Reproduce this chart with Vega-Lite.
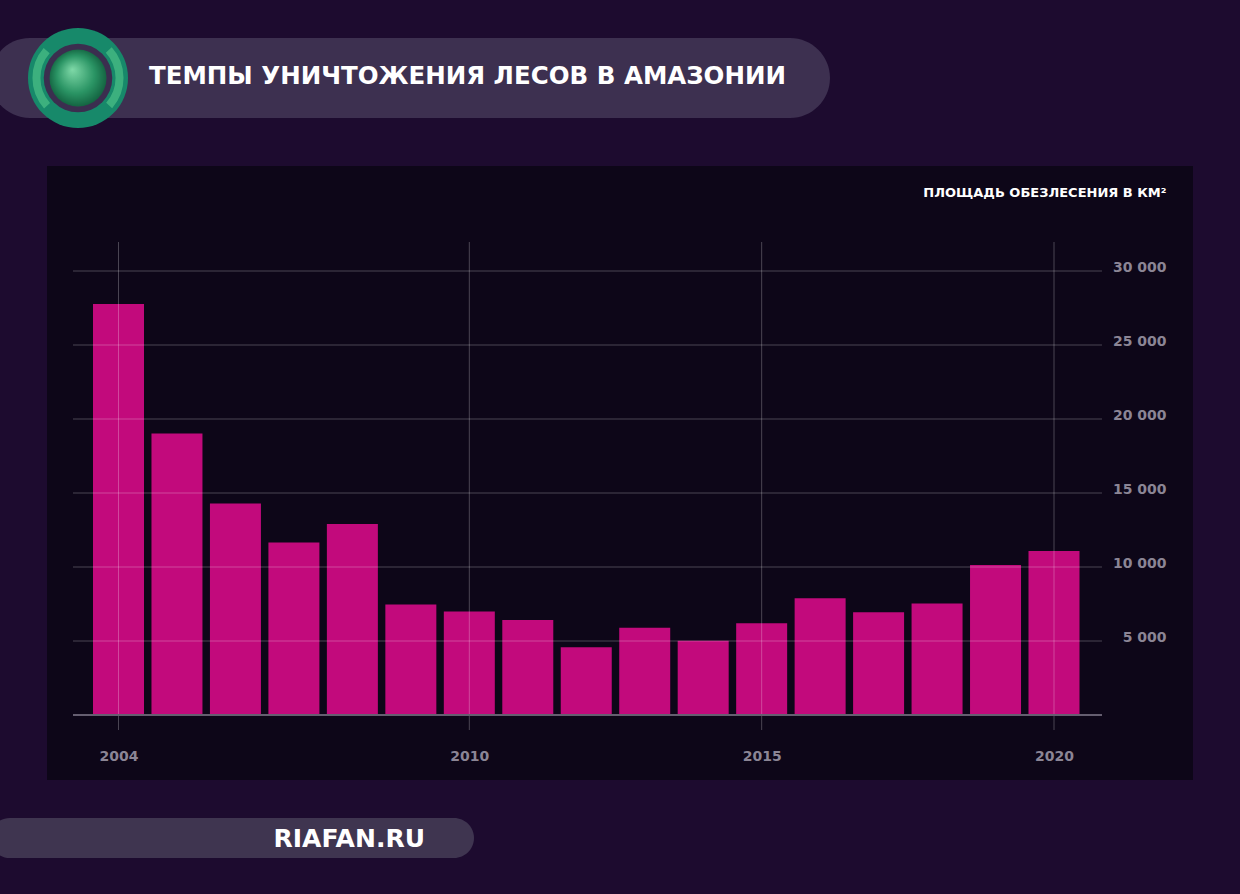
{
  "$schema": "https://vega.github.io/schema/vega-lite/v6.json",
  "width": 1146,
  "height": 614,
  "autosize": {"type": "none"},
  "padding": {"left": 47, "top": 166, "right": 47, "bottom": 114},
  "background": "#1d0b2f",
  "title": {
    "text": "ТЕМПЫ УНИЧТОЖЕНИЯ ЛЕСОВ В АМАЗОНИИ",
    "anchor": "start",
    "frame": "group",
    "orient": "top",
    "dx": 102,
    "offset": -81,
    "baseline": "middle",
    "font": "DejaVu Sans",
    "fontSize": 24.5,
    "fontWeight": "bold",
    "color": "#ffffff"
  },
  "config": {
    "view": {"fill": "#0d0618", "stroke": null}
  },
  "data": {
    "values": [
      {"year": 2004, "area": 27772},
      {"year": 2005, "area": 19014},
      {"year": 2006, "area": 14286},
      {"year": 2007, "area": 11651},
      {"year": 2008, "area": 12911},
      {"year": 2009, "area": 7464},
      {"year": 2010, "area": 7000},
      {"year": 2011, "area": 6418},
      {"year": 2012, "area": 4571},
      {"year": 2013, "area": 5891},
      {"year": 2014, "area": 5012},
      {"year": 2015, "area": 6207},
      {"year": 2016, "area": 7893},
      {"year": 2017, "area": 6947},
      {"year": 2018, "area": 7536},
      {"year": 2019, "area": 10129},
      {"year": 2020, "area": 11088}
    ]
  },
  "layer": [
    {
      "mark": {"type": "bar", "width": 51, "color": "#c20a7c"},
      "encoding": {
        "x": {
          "field": "year", "type": "quantitative",
          "scale": {"domain": [2002.7771, 2022.3773], "nice": false, "zero": false, "padding": 0},
          "axis": {
            "values": [2004, 2010, 2015, 2020],
            "format": "d", "zindex": 1,
            "domain": false, "ticks": false, "grid": false,
            "labelPadding": -24, "labelBaseline": "middle", "labelFlush": false, "labelOverlap": false,
            "labelColor": "#8b8595", "labelFont": "DejaVu Sans", "labelFontWeight": "bold", "labelFontSize": 14,
            "title": "RIAFAN.RU", "titleX": 226, "titleY": 58, "titleAlign": "left", "titleAnchor": "start",
            "titleBaseline": "middle", "titleColor": "#ffffff", "titleFont": "DejaVu Sans", "titleFontWeight": "bold", "titleFontSize": 25
          }
        },
        "y": {
          "field": "area", "type": "quantitative",
          "scale": {"domain": [-4392, 37095], "nice": false, "zero": false},
          "axis": {
            "orient": "right",
            "values": [5000, 10000, 15000, 20000, 25000, 30000],
            "labelExpr": "replace(format(datum.value, ','), ',', ' ')",
            "domain": false, "ticks": false, "grid": false,
            "labelAlign": "right", "labelPadding": -27, "labelBaseline": "middle", "labelOffset": -4, "labelFlush": false, "labelOverlap": false,
            "labelColor": "#8b8595", "labelFont": "DejaVu Sans", "labelFontWeight": "bold", "labelFontSize": 14,
            "title": "ПЛОЩАДЬ ОБЕЗЛЕСЕНИЯ В КМ²", "titleAngle": 0, "titleAlign": "right", "titleBaseline": "middle",
            "titleX": -27, "titleY": 26, "titleColor": "#ffffff", "titleFont": "DejaVu Sans", "titleFontWeight": "bold", "titleFontSize": 13
          }
        },
        "y2": {"datum": 0}
      }
    },
    {
      "data": {"values": [{"grid": 5000}, {"grid": 10000}, {"grid": 15000}, {"grid": 20000}, {"grid": 25000}, {"grid": 30000}]},
      "mark": {"type": "rule", "color": "#ffffff", "opacity": 0.25, "strokeWidth": 1},
      "encoding": {
        "y": {"field": "grid", "type": "quantitative"},
        "x": {"datum": 2003.2218, "type": "quantitative"},
        "x2": {"datum": 2020.8209}
      }
    },
    {
      "data": {"values": [{"tick": 2004}, {"tick": 2010}, {"tick": 2015}, {"tick": 2020}]},
      "mark": {"type": "rule", "color": "#ffffff", "opacity": 0.25, "strokeWidth": 1},
      "encoding": {
        "x": {"field": "tick", "type": "quantitative"},
        "y": {"datum": 31959, "type": "quantitative"},
        "y2": {"datum": -1014}
      }
    },
    {
      "data": {"values": [{"item": "baseline"}]},
      "mark": {"type": "rule", "color": "#655e70", "strokeWidth": 2},
      "encoding": {
        "y": {"datum": 0, "type": "quantitative"},
        "x": {"datum": 2003.2218, "type": "quantitative"},
        "x2": {"datum": 2020.8209}
      }
    },
    {
      "data": {"values": [{"item": "title pill"}]},
      "mark": {"type": "rect", "color": "#3d3050", "cornerRadius": 40, "clip": false},
      "encoding": {
        "x": {"datum": 2001.8, "type": "quantitative"},
        "x2": {"datum": 2016.1686},
        "y": {"datum": 45743, "type": "quantitative"},
        "y2": {"datum": 40338}
      }
    },
    {
      "data": {"values": [{"item": "footer pill"}]},
      "mark": {"type": "rect", "color": "#3f3550", "cornerRadius": 20, "clip": false},
      "encoding": {
        "x": {"datum": 2001.8, "type": "quantitative"},
        "x2": {"datum": 2010.08},
        "y": {"datum": -6960, "type": "quantitative"},
        "y2": {"datum": -9662}
      }
    },
    {
      "data": {"values": [{"item": "logo"}]},
      "mark": {"type": "point", "shape": "circle", "filled": true, "size": 10000, "color": "#17896a", "opacity": 1, "clip": false},
      "encoding": {
        "x": {"datum": 2003.3073, "type": "quantitative"},
        "y": {"datum": 43041, "type": "quantitative"}
      }
    },
    {
      "data": {"values": [{"item": "logo"}]},
      "mark": {"type": "point", "shape": "circle", "filled": false, "size": 6900, "stroke": "#3cb07e", "strokeWidth": 8, "opacity": 1, "clip": false, "strokeDash": [60, 70], "strokeDashOffset": 30},
      "encoding": {
        "x": {"datum": 2003.3073, "type": "quantitative"},
        "y": {"datum": 43041, "type": "quantitative"}
      }
    },
    {
      "data": {"values": [{"item": "logo"}]},
      "mark": {"type": "point", "shape": "circle", "filled": true, "size": 4700, "color": "#3b2e4f", "opacity": 1, "clip": false},
      "encoding": {
        "x": {"datum": 2003.3073, "type": "quantitative"},
        "y": {"datum": 43041, "type": "quantitative"}
      }
    },
    {
      "data": {"values": [{"item": "logo"}]},
      "mark": {
        "type": "point", "shape": "circle", "filled": true, "size": 3250, "opacity": 1, "clip": false,
        "fill": {"gradient": "radial", "x1": 0.4, "y1": 0.35, "r1": 0, "x2": 0.5, "y2": 0.5, "r2": 0.55,
          "stops": [{"offset": 0, "color": "#7fd9a8"}, {"offset": 0.6, "color": "#2a9464"}, {"offset": 1, "color": "#0f5a3a"}]}
      },
      "encoding": {
        "x": {"datum": 2003.3073, "type": "quantitative"},
        "y": {"datum": 43041, "type": "quantitative"}
      }
    }
  ]
}
